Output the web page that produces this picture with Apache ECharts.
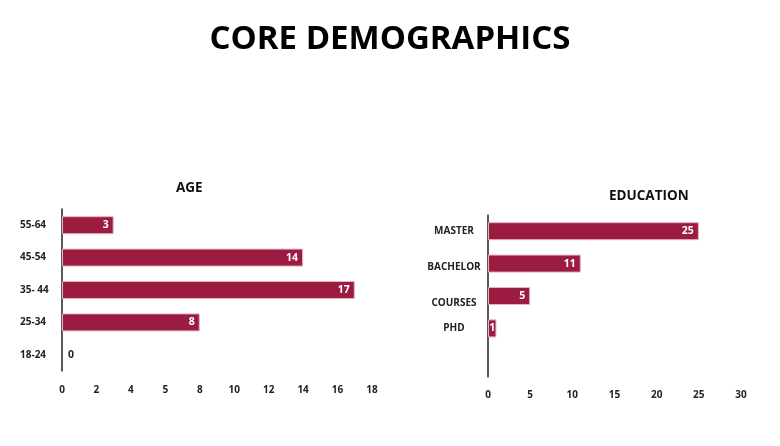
<!DOCTYPE html>
<html>
<head>
    <meta charset="utf-8">
    <title>Core Demographics</title>
    <script src="https://cdn.jsdelivr.net/npm/echarts@6/dist/echarts.min.js"></script>
    <style>
        html, body { margin: 0; padding: 0; background: #fff; }
    </style>
</head>
<body>
    <div id="main" style="width: 780px;height:446px;"></div>
    <script type="text/javascript">
        // age block (bottom to top, as the category axis draws it)
        var ageCats = ['18-24', '25-34', '35- 44', '45-54', '55-64'];
        var ageVals = [0, 8, 17, 14, 3];
        // tick labels as printed in the source (note the "5" where 6 would be)
        var ageTicks = ['0', '2', '4', '5', '8', '10', '12', '14', '16', '18'];

        // education block (top to bottom)
        var eduCats = ['MASTER', 'BACHELOR', 'COURSES', 'PHD'];
        var eduVals = [25, 11, 5, 1];

        var barColor = '#9b1b41';
        var font = 'Open Sans';

        function barData(vals) {
            return vals.map(function (v) {
                if (v === 0) {
                    // nothing to draw, the value sits next to the axis
                    return {
                        value: v,
                        itemStyle: { borderWidth: 0 },
                        label: { position: 'right', color: '#222', distance: 6 }
                    };
                }
                if (v <= 1) {
                    return { value: v, label: { position: 'inside' } };
                }
                return v;
            });
        }

        // empty slot under PHD, like the original; two labels sit a bit low in the source
        var eduShift = { BACHELOR: 8, COURSES: 14 };
        var eduAxis = [''].concat(eduCats.slice().reverse()).map(function (c) {
            if (eduShift[c]) {
                return {
                    value: c,
                    textStyle: { align: 'center', verticalAlign: 'top', lineHeight: eduShift[c] }
                };
            }
            return c;
        });
        var eduData = ['-'].concat(barData(eduVals.slice().reverse()));

        var axisLabelStyle = {
            color: '#222',
            fontFamily: font,
            fontWeight: 'bold',
            fontSize: 10
        };

        var barLabel = {
            show: true,
            position: 'insideRight',
            distance: 5,
            color: '#fff',
            fontFamily: font,
            fontWeight: 'bold',
            fontSize: 10.5
        };

        var myChart = echarts.init(document.getElementById('main'));
        var option = {
            animation: false,
            title: [
                {
                    text: 'CORE DEMOGRAPHICS',
                    left: 'center',
                    top: 18,
                    textStyle: { fontFamily: font, fontWeight: 'bold', fontSize: 33, color: '#000' }
                },
                {
                    text: 'AGE',
                    left: 171,
                    top: 176,
                    textStyle: { fontFamily: font, fontWeight: 'bold', fontSize: 13.5, color: '#111' }
                },
                {
                    text: 'EDUCATION',
                    left: 604,
                    top: 184,
                    textStyle: { fontFamily: font, fontWeight: 'bold', fontSize: 13.5, color: '#111' }
                }
            ],
            grid: [
                { left: 62, top: 209, width: 310, height: 162 },
                { left: 488, top: 215, width: 253, height: 162 }
            ],
            xAxis: [
                {
                    type: 'value',
                    gridIndex: 0,
                    min: 0,
                    max: 18,
                    interval: 2,
                    axisLine: { show: false },
                    axisTick: { show: false },
                    splitLine: { show: false },
                    axisLabel: Object.assign({
                        margin: 14,
                        formatter: function (v) {
                            return ageTicks[Math.round(v / 2)];
                        }
                    }, axisLabelStyle)
                },
                {
                    type: 'value',
                    gridIndex: 1,
                    min: 0,
                    max: 30,
                    interval: 5,
                    axisLine: { show: false },
                    axisTick: { show: false },
                    splitLine: { show: false },
                    axisLabel: Object.assign({ margin: 13 }, axisLabelStyle)
                }
            ],
            yAxis: [
                {
                    type: 'category',
                    gridIndex: 0,
                    data: ageCats,
                    axisTick: { show: false },
                    axisLine: { lineStyle: { color: '#222', width: 1.5 } },
                    axisLabel: Object.assign({ align: 'left', margin: 42 }, axisLabelStyle)
                },
                {
                    type: 'category',
                    gridIndex: 1,
                    data: eduAxis,
                    axisTick: { show: false },
                    axisLine: { lineStyle: { color: '#222', width: 1.5 } },
                    axisLabel: Object.assign({ align: 'center', margin: 34 }, axisLabelStyle)
                }
            ],
            series: [
                {
                    name: 'AGE',
                    type: 'bar',
                    xAxisIndex: 0,
                    yAxisIndex: 0,
                    barWidth: 18,
                    itemStyle: { color: barColor, borderColor: '#e4b3c2', borderWidth: 1 },
                    label: barLabel,
                    data: barData(ageVals)
                },
                {
                    name: 'EDUCATION',
                    type: 'bar',
                    xAxisIndex: 1,
                    yAxisIndex: 1,
                    barWidth: 18,
                    itemStyle: { color: barColor, borderColor: '#e4b3c2', borderWidth: 1 },
                    label: barLabel,
                    data: eduData
                }
            ]
        };

        myChart.setOption(option);
    </script>
</body>
</html>
